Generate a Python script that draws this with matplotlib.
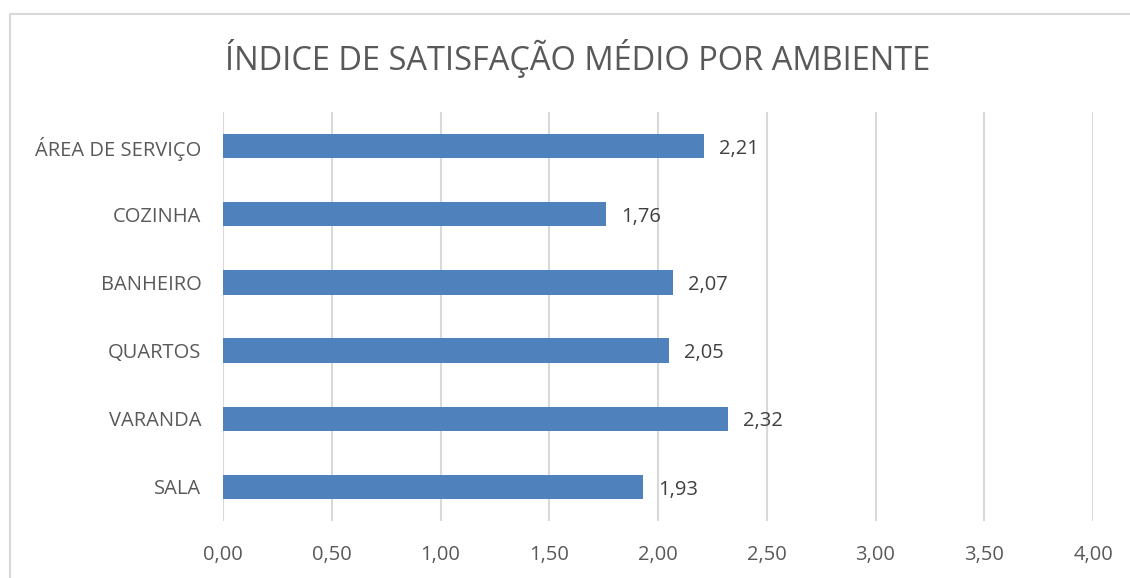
import matplotlib
matplotlib.use("Agg")
import matplotlib.pyplot as plt
from matplotlib.lines import Line2D

categories = ["SALA", "VARANDA", "QUARTOS", "BANHEIRO", "COZINHA", "ÁREA DE SERVIÇO"]
values = [1.93, 2.32, 2.05, 2.07, 1.76, 2.21]
xticks = [0, 0.5, 1.0, 1.5, 2.0, 2.5, 3.0, 3.5, 4.0]
title = "ÍNDICE DE SATISFAÇÃO MÉDIO POR AMBIENTE"

plt.rcParams['font.family'] = ['Open Sans', 'DejaVu Sans']

fig = plt.figure(figsize=(11.30, 5.78), dpi=100)
ax = fig.add_axes([223/1130, 1-521/578, (1093-223)/1130, (521-112)/578])

ypos = list(range(len(categories)))
ax.barh(ypos, values, height=0.355, color="#4F81BD", zorder=3)
for y, v in zip(ypos, values):
    ax.text(v + 0.07, y - 0.04, f"{v:.2f}".replace(".", ","), va="center", ha="left",
            fontsize=14.5, color="#404040")

ax.set_xlim(0, 4)
ax.set_ylim(-0.5, len(categories) - 0.5)
ax.set_xticks(xticks)
ax.set_xticklabels([f"{t:.2f}".replace(".", ",") for t in xticks])
ax.set_yticks(ypos)
ax.set_yticklabels(categories)
ax.tick_params(axis="x", length=0, pad=17, labelsize=14.5, labelcolor="#595959")
ax.tick_params(axis="y", length=0, pad=15.5, labelsize=14.5, labelcolor="#595959")
ax.grid(axis="x", color="#D9D9D9", linewidth=1.5, zorder=0)
for s in ax.spines.values():
    s.set_visible(False)

fig.text(578/1130, 1-58/578, title, ha="center", va="center", fontsize=23.5, color="#595959")

# chart border (top and left visible)
fig.add_artist(Line2D([9.5/1130, 1], [1-13.5/578, 1-13.5/578], color="#D9D9D9", linewidth=1.5, transform=fig.transFigure))
fig.add_artist(Line2D([9.5/1130, 9.5/1130], [0, 1-13.5/578], color="#D9D9D9", linewidth=1.5, transform=fig.transFigure))

fig.savefig("out.png", dpi=100, facecolor="white")
